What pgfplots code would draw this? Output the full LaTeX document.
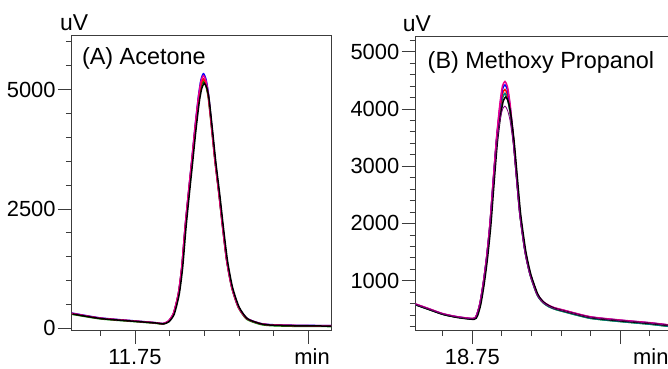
\documentclass[border=0pt]{standalone}
\usepackage{fontspec}
\setmainfont{Liberation Sans}
\usepackage{pgfplots}
\usepackage{pgfplotstable}
\pgfplotsset{compat=1.18}
\definecolor{axgray}{RGB}{60,60,60}
\definecolor{cgreen}{RGB}{0,140,0}
\definecolor{cteal}{RGB}{0,128,128}
\definecolor{cpurple}{RGB}{128,0,128}

\pgfplotstableread{
x       b    m    r    g    k
11.659  320  315  310  295  300
11.700  218  214  210  198  204
11.750  155  152  150  140  145
11.780  118  116  114  105  110
11.790  100   98   96   88   92
11.798  150  148  146  138  140
11.8055 314  312  310  300  300
11.8126 734  730  726  715  715
11.8175 1291 1285 1280 1265 1265
11.8223 2130 2120 2110 2095 2095
11.8270 2830 2820 2805 2790 2785
11.8319 3528 3515 3495 3480 3470
11.8366 4226 4210 4180 4160 4140
11.8414 4855 4830 4790 4760 4730
11.8450 5200 5165 5100 5060 5020
11.8486 5330 5290 5220 5170 5130
11.8522 5220 5185 5120 5075 5040
11.8557 4925 4900 4850 4820 4790
11.8606 4226 4210 4180 4160 4140
11.8654 3528 3515 3495 3480 3470
11.8711 2830 2820 2805 2790 2785
11.8764 2130 2120 2110 2095 2095
11.8822 1432 1425 1420 1405 1410
11.8894 872  868  865  850  858
11.8989 453  450  448  435  445
11.9110 210  208  205  190  200
11.9300 105  102  100   85   95
11.9440 78    75   72   58   68
11.9700 66    62   60   45   56
12.0000 60    56   54   40   50
12.0324 58    54   52   38   48
}\dataA

\pgfplotstableread{
x       m    b    r    t    k    p
18.654  593  590  588  580  575  585
18.675  517  514  512  505  498  510
18.700  425  422  420  415  408  420
18.725  370  368  366  362  355  365
18.7517 340  338  336  332  325  335
18.7574 400  398  396  392  385  395
18.7630 605  600  598  592  585  595
18.7686 954  948  945  940  930  940
18.7744 1420 1412 1405 1398 1390 1395
18.7800 2003 1992 1982 1972 1960 1960
18.7855 2760 2745 2730 2715 2700 2680
18.7913 3517 3500 3480 3460 3440 3380
18.7969 4101 4060 4000 3950 3910 3800
18.8011 4400 4345 4270 4200 4140 3990
18.8053 4479 4420 4340 4270 4210 4050
18.8095 4390 4335 4255 4190 4130 3980
18.8138 4101 4060 4000 3950 3910 3800
18.8194 3517 3500 3480 3460 3440 3380
18.8252 2818 2805 2790 2775 2765 2740
18.8307 2178 2168 2160 2150 2145 2130
18.8392 1537 1530 1525 1515 1515 1505
18.8477 1129 1124 1120 1110 1112 1105
18.8590 790  786  782  770  775  770
18.8650 690  686  683  670  676  673
18.8710 625  621  618  605  612  610
18.8790 572  568  565  550  558  557
18.8890 528  524  520  505  512  513
18.9040 488  484  480  462  470  475
18.9492 371  368  365  345  355  360
19.0000 313  310  307  288  298  305
19.0508 266  263  260  240  252  258
19.0846 225  222  220  200  212  218
}\dataB

\begin{document}
\begin{tikzpicture}[x=1bp,y=1bp]
\pgfplotsset{
  chrom/.style={
    scale only axis,
    tick align=outside,
    xtick pos=bottom, ytick pos=left,
    major tick length=14bp, minor tick length=6bp,
    every tick/.style={axgray, line width=0.8bp},
    axis line style={axgray, line width=1bp},
    tick label style={font=\fontsize{22}{26}\selectfont},
    yticklabel style={anchor=east, inner sep=0pt, xshift=-2bp},
    xticklabel style={anchor=base, inner sep=0pt, yshift=-20bp},
    scaled ticks=false,
    clip=true,
    every axis plot/.append style={line width=1.5bp, smooth, tension=0.4, no marks},
  }
}
\begin{axis}[chrom, name=A,
  at={(71.8bp,39bp)}, anchor=south west,
  width=259.2bp, height=294bp,
  xmin=11.659, xmax=12.0324, ymin=-35, ymax=6120,
  xtick={11.75,12.0}, xticklabels={11.75,{}},
  minor xtick={11.70,11.80,11.85,11.90,11.95},
  ytick={0,2500,5000}, yticklabels={0,2500,5000},
  minor ytick={500,1000,1500,2000,3000,3500,4000,4500,5500,6000},
]
\addplot[cgreen] table[x=x,y=g] {\dataA};
\addplot[blue] table[x=x,y=b] {\dataA};
\addplot[red] table[x=x,y=r] {\dataA};
\addplot[magenta] table[x=x,y=m] {\dataA};
\addplot[black, xshift=0.8bp] table[x=x,y=k] {\dataA};
\end{axis}
\node[anchor=base west, inner sep=0pt, font=\fontsize{23.5}{28}\selectfont] at ([xshift=10bp,yshift=-29bp]A.north west) {(A) Acetone};
\node[anchor=base, inner sep=0pt, font=\fontsize{23}{28}\selectfont] at ([xshift=2.4bp,yshift=5bp]A.north west) {uV};
\node[anchor=base east, inner sep=0pt, font=\fontsize{22}{26}\selectfont] at ([xshift=-1bp,yshift=-34bp]A.south east) {min};

\begin{axis}[chrom, name=B,
  at={(415.5bp,39bp)}, anchor=south west,
  width=254.5bp, height=293.3bp,
  xmin=18.6539, xmax=19.0846, ymin=139, ymax=5262,
  xtick={18.75,19.0}, xticklabels={18.75,{}},
  minor xtick={18.70,18.80,18.85,18.90,18.95,19.05},
  ytick={1000,2000,3000,4000,5000}, yticklabels={1000,2000,3000,4000,5000},
  minor ytick={200,400,600,800,1200,1400,1600,1800,2200,2400,2600,2800,3200,3400,3600,3800,4200,4400,4600,4800,5200},
]
\addplot[cgreen] table[x=x,y=t] {\dataB};
\addplot[cteal] table[x=x,y=t] {\dataB};
\addplot[red] table[x=x,y=r] {\dataB};
\addplot[blue] table[x=x,y=b] {\dataB};
\addplot[magenta] table[x=x,y=m] {\dataB};
\addplot[black, xshift=0.8bp] table[x=x,y=k] {\dataB};
\addplot[cpurple, line width=0.8bp] table[x=x,y=p] {\dataB};
\end{axis}
\node[anchor=base west, inner sep=0pt, font=\fontsize{23.5}{28}\selectfont] at ([xshift=12bp,yshift=-31.5bp]B.north west) {(B) Methoxy Propanol};
\node[anchor=base, inner sep=0pt, font=\fontsize{23}{28}\selectfont] at ([xshift=1.5bp,yshift=5bp]B.north west) {uV};
\node[anchor=base east, inner sep=0pt, font=\fontsize{22}{26}\selectfont] at ([xshift=-1.3bp,yshift=-34bp]B.south east) {min};

\pgfresetboundingbox
\path[use as bounding box] (0,0) rectangle (668bp,369bp);
\end{tikzpicture}
\end{document}
